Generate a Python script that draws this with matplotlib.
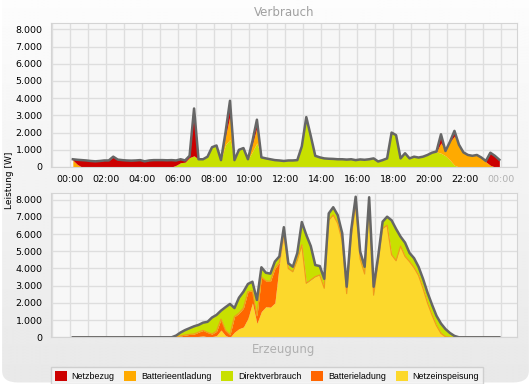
import numpy as np
import matplotlib.pyplot as plt
from matplotlib.patches import Patch, FancyBboxPatch
from matplotlib.ticker import FuncFormatter, MultipleLocator

# 15-minute values, first sample at 00:10
start_min = 10
step_min = 15

# Verbrauch (consumption), stacked bottom -> top
verbrauch_direkt = [0] * 23 + [
    100, 250, 280, 550, 650, 450, 450, 600, 1150, 1250, 400, 1300, 1600, 400, 1000, 1100,
    450, 900, 1400, 560, 500, 450, 400, 380, 350, 380, 380, 400, 1200, 2900, 1800, 650,
    560, 500, 480, 470, 450, 450, 430, 450, 400, 440, 420, 450, 500, 320, 400, 500,
    2000, 1850, 500, 800, 500, 600, 550, 600, 700, 830, 880, 800, 650, 400, 100,
] + [0] * 10
verbrauch_batterie = [400, 150] + [0] * 32 + [500, 1400] + [0] * 4 + [450, 900] + [0] * 39 + [
    20, 600, 280, 1070, 1700, 1300, 850, 700, 650, 700, 550, 300, 100, 0, 0,
]
verbrauch_netz = [
    50, 270, 400, 380, 350, 330, 350, 380, 380, 600, 430, 400, 380, 370, 380, 400,
    330, 380, 400, 400, 400, 390, 400, 280, 200, 100, 100, 2750,
] + [0] * 6 + [200, 850] + [0] * 4 + [150, 450] + [0] * 40 + [500, 0, 0, 300] + [0] * 6 + [
    50, 730, 650, 420,
]

# Erzeugung (production), stacked bottom -> top
erzeugung_netz = [0] * 23 + [
    0, 20, 30, 40, 40, 50, 80, 30, 40, 100, 420, 100, 0, 300, 500, 600,
    1100, 2000, 800, 1500, 1780, 1750, 2000, 4250, 5850, 4000, 3810, 4490, 5370, 3140, 3330, 3520,
    3620, 2850, 6800, 7110, 6630, 5600, 2540, 5800, 7700, 4550, 3680, 7700, 2450, 4370, 6320, 6510,
    4800, 4450, 5300, 4700, 4400, 4050, 3600, 2850, 2000, 1300, 680, 230, 30, 0, 0,
] + [0] * 10
erzeugung_batterie = [0] * 23 + [
    20, 60, 100, 130, 150, 250, 320, 250, 150, 250, 630, 300, 150, 900, 900, 1100,
    1550, 700, 450, 2000, 1500, 1500, 2000, 100, 200,
] + [0] * 48
erzeugung_direkt = [0] * 23 + [
    80, 200, 290, 360, 450, 420, 450, 620, 960, 950, 500, 1350, 1790, 500, 900, 950,
    450, 530, 920, 570, 470, 450, 400, 350, 350, 300, 290, 410, 1330, 2810, 1970, 680,
    520, 550, 400, 450, 470, 450, 400, 440, 470, 430, 420, 440, 490, 320, 400, 500,
    2000, 1850, 550, 800, 500, 550, 500, 550, 600, 600, 570, 570, 450, 250, 80,
] + [0] * 10

labels = ['Netzbezug', 'Batterieentladung', 'Direktverbrauch', 'Batterieladung', 'Netzeinspeisung']
colors = ['#cc0000', '#ffaa00', '#c8e000', '#ff6600', '#fcd82c']
tick_labels = ['00:00', '02:00', '04:00', '06:00', '08:00', '10:00', '12:00',
               '14:00', '16:00', '18:00', '20:00', '22:00', '00:00']

hours = (start_min + step_min * np.arange(len(verbrauch_direkt))) / 60.0

W, H = 531, 384
fig = plt.figure(figsize=(W / 100, H / 100), dpi=100)
fig.patch.set_facecolor('white')

# grey gradient background with rounded corners
bg = fig.add_axes([0, 0, 1, 1], zorder=-10)
bg.set_axis_off()
bg.set_xlim(0, 1)
bg.set_ylim(0, 1)
grad = np.linspace(0.91, 0.99, 256).reshape(-1, 1)
img = bg.imshow(grad, extent=[0, 1, 0, 1], origin='lower', cmap='gray', vmin=0, vmax=1, aspect='auto')
box = FancyBboxPatch((0.004, 0.004), 0.992, 1.2, boxstyle='round,pad=0,rounding_size=0.03',
                     transform=bg.transAxes, facecolor='none', edgecolor='none')
bg.add_patch(box)
img.set_clip_path(box)


def fmt(v, pos):
    return f'{int(v):,}'.replace(',', '.')


def setup(ax):
    ax.set_facecolor('#f7f7f7')
    ax.set_xlim(-1.05, 24.9)
    ax.set_ylim(0, 8370)
    ax.set_xticks(range(0, 25, 2))
    ax.xaxis.set_minor_locator(MultipleLocator(1))
    ax.yaxis.set_major_locator(MultipleLocator(1000))
    ax.yaxis.set_major_formatter(FuncFormatter(fmt))
    ax.grid(True, which='both', color='#dedede', lw=1)
    ax.set_axisbelow(True)
    ax.tick_params(which='both', length=0, labelsize=6.8)
    ax.tick_params(axis='y', pad=6)
    ax.tick_params(axis='x', pad=6)
    for s in ax.spines.values():
        s.set_color('#d4d4d4')


def stack(ax, layers, cols):
    base = np.zeros(len(hours))
    for vals, c in zip(layers, cols):
        top = base + np.array(vals)
        ax.fill_between(hours, base, top, color=c, lw=0)
        base = top
    return base


ax1 = fig.add_axes([51 / W, 1 - 167 / H, 466 / W, 144 / H])
setup(ax1)
total1 = stack(ax1, [verbrauch_direkt, verbrauch_batterie, verbrauch_netz],
               [colors[2], colors[1], colors[0]])
ax1.plot(hours, total1, color='#666666', lw=1.8)
ax1.set_xticklabels(tick_labels)
ax1.get_xticklabels()[-1].set_color('#b0b0b0')

ax2 = fig.add_axes([51 / W, 1 - 337.3 / H, 466 / W, 144 / H])
setup(ax2)
yel = np.array(erzeugung_netz)
ax2.fill_between(hours, 0, yel, color=colors[4], lw=0)
mid = yel + np.array(erzeugung_batterie)
ax2.fill_between(hours, yel, mid, color=colors[3], lw=0)
total2 = mid + np.array(erzeugung_direkt)
ax2.fill_between(hours, mid, total2, color=colors[2], lw=0)
ax2.plot(hours, mid, color='#f29a1a', lw=0.9)
ax2.plot(hours, total2, color='#666666', lw=1.8)
ax2.set_xticklabels([])

fig.text(284 / W, 1 - 12 / H, 'Verbrauch', ha='center', va='center', color='#a0a0a0', fontsize=8.5)
fig.text(284 / W, 1 - 350 / H, 'Erzeugung', ha='center', va='center', color='#b0b0b0', fontsize=8.5)
fig.text(10 / W, 1 - 180 / H, 'Leistung [W]', rotation=90, ha='center', va='center', fontsize=6.5)

handles = [Patch(facecolor=c, edgecolor='none') for c in colors]
leg = fig.legend(handles, labels, ncol=5, loc='upper left', bbox_to_anchor=(51 / W, 1 - 367 / H),
                 prop={'family': 'Liberation Sans', 'size': 6.4}, frameon=True, fancybox=False,
                 handlelength=1.35, handleheight=1.35, handletextpad=0.55, columnspacing=1.1,
                 borderpad=0.4, borderaxespad=0)
leg.get_frame().set_facecolor('#f4f4f4')
leg.get_frame().set_edgecolor('#c8c8c8')
leg.get_frame().set_linewidth(1)

fig.savefig('out.png', dpi=100, facecolor=fig.get_facecolor())
